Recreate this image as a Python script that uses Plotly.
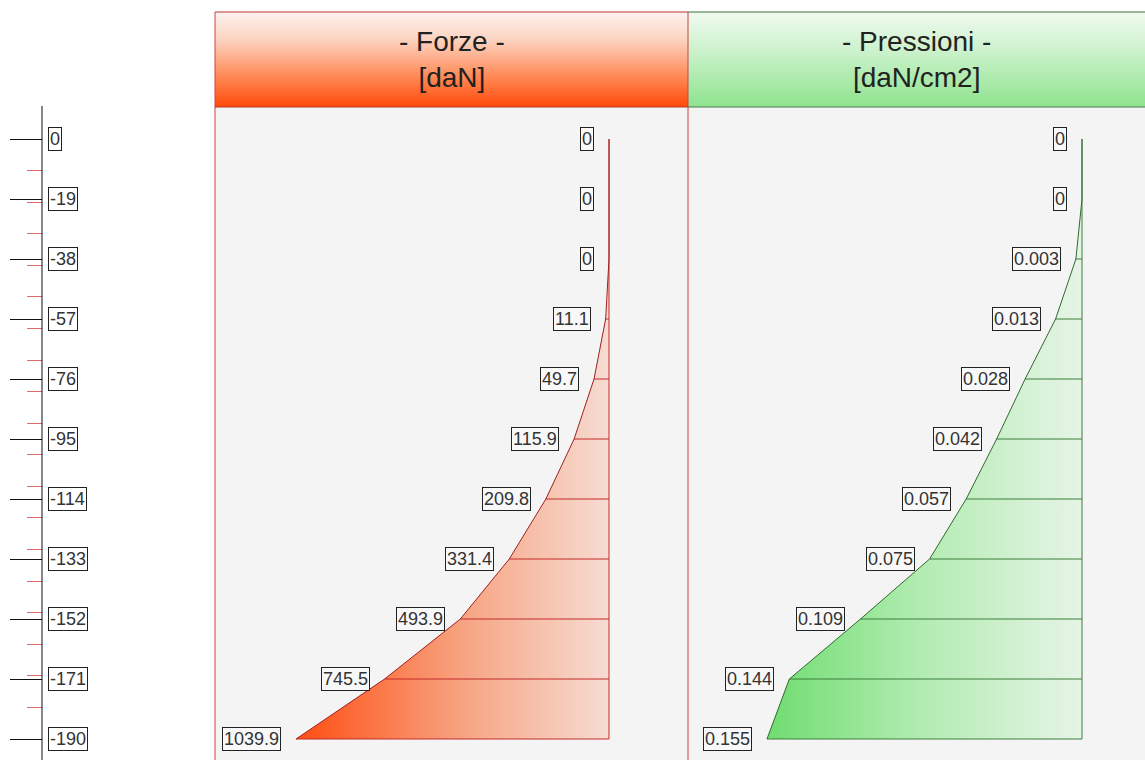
import plotly.graph_objects as go

# Depth levels (cm) and the values computed at each level
DEPTH = [0, -19, -38, -57, -76, -95, -114, -133, -152, -171, -190]
DEPTH_LABELS = ["0", "-19", "-38", "-57", "-76", "-95", "-114", "-133", "-152", "-171", "-190"]
MINOR_DEPTH = [-10, -20, -30, -40, -50, -60, -70, -80, -90, -100,
               -110, -120, -130, -140, -150, -160, -170, -180, -190]
FORZE = [0, 0, 0, 11.1, 49.7, 115.9, 209.8, 331.4, 493.9, 745.5, 1039.9]          # daN
PRESSIONI = [0, 0, 0.003, 0.013, 0.028, 0.042, 0.057, 0.075, 0.109, 0.144, 0.155]  # daN/cm2

W, H = 1145, 760
FONT = "Liberation Sans, Arial, sans-serif"

# pixel layout of the two panels
PANEL_TOP, HEADER_BOTTOM = 12, 107
F_LEFT, SPLIT, P_RIGHT = 215, 688, W
F_BASE_PX, F_PX_PER_UNIT = 609, 0.30099      # baseline of the force diagram
P_BASE_PX, P_PX_PER_UNIT = 1082, 2032.3      # baseline of the pressure diagram
DEPTH_TOP_PX, PX_PER_CM = 139, 600 / 190     # depth 0 row and vertical scale

RED_LINE = "#c42a2a"
RED_EDGE = "#9e2020"
GREEN_LINE = "#3d7f3d"
GREEN_EDGE = "#2f6a2f"

fig = go.Figure()

# ---- panel backgrounds and headers (pixel coordinates on the base axes) ----
fig.add_trace(go.Scatter(
    x=[F_LEFT, P_RIGHT, P_RIGHT, F_LEFT, F_LEFT],
    y=[HEADER_BOTTOM, HEADER_BOTTOM, H, H, HEADER_BOTTOM],
    fill="toself", fillcolor="#f4f4f4", line=dict(width=0),
    mode="lines", hoverinfo="skip", showlegend=False))

# gradient colours run from the bottom edge (0) to the top edge (1)
fig.add_trace(go.Scatter(
    x=[F_LEFT, SPLIT, SPLIT, F_LEFT, F_LEFT],
    y=[PANEL_TOP, PANEL_TOP, HEADER_BOTTOM, HEADER_BOTTOM, PANEL_TOP],
    fill="toself", mode="lines", line=dict(width=0),
    fillgradient=dict(type="vertical",
                      colorscale=[[0, "#ff4a0a"], [0.3, "#ff8550"], [0.7, "#fcd2bf"], [1, "#fdf3ef"]]),
    hoverinfo="skip", showlegend=False))

fig.add_trace(go.Scatter(
    x=[SPLIT, P_RIGHT, P_RIGHT, SPLIT, SPLIT],
    y=[PANEL_TOP, PANEL_TOP, HEADER_BOTTOM, HEADER_BOTTOM, PANEL_TOP],
    fill="toself", mode="lines", line=dict(width=0),
    fillgradient=dict(type="vertical",
                      colorscale=[[0, "#8ee38e"], [0.6, "#cdf2cd"], [1, "#f0faf0"]]),
    hoverinfo="skip", showlegend=False))


def diagram(values, xaxis, line_col, edge_col, grad):
    # filled diagram between the baseline and the curve
    fig.add_trace(go.Scatter(
        x=values + [0, 0], y=DEPTH + [DEPTH[-1], DEPTH[0]],
        xaxis=xaxis, yaxis="y2", mode="lines", fill="toself",
        fillgradient=dict(type="horizontal", colorscale=grad),
        line=dict(width=0), hoverinfo="skip", showlegend=False))
    # horizontal level lines
    hx, hy = [], []
    for v, d in zip(values, DEPTH):
        hx += [v, 0, None]
        hy += [d, d, None]
    fig.add_trace(go.Scatter(x=hx, y=hy, xaxis=xaxis, yaxis="y2", mode="lines",
                             line=dict(color=line_col, width=1),
                             hoverinfo="skip", showlegend=False))
    # baseline
    fig.add_trace(go.Scatter(x=[0, 0], y=[DEPTH[0], DEPTH[-1]], xaxis=xaxis, yaxis="y2",
                             mode="lines", line=dict(color=line_col, width=1),
                             hoverinfo="skip", showlegend=False))
    # outline
    fig.add_trace(go.Scatter(x=values, y=DEPTH, xaxis=xaxis, yaxis="y2", mode="lines",
                             line=dict(color=edge_col, width=1),
                             hoverinfo="skip", showlegend=False))
    # value labels
    for v, d in zip(values, DEPTH):
        fig.add_annotation(x=v, y=d, xref=xaxis, yref="y2", text=f"{v:g}",
                           showarrow=False, xanchor="right", yanchor="middle", xshift=-15,
                           font=dict(family=FONT, size=18, color="#333333"),
                           bgcolor="#f8f8f8", bordercolor="#222222", borderwidth=1, borderpad=1)


# horizontal gradients run left (0) to right (1) on screen
diagram(FORZE, "x2", RED_LINE, RED_EDGE,
        [[0, "#ff4d12"], [0.55, "#f7a685"], [1, "#f6dcd2"]])
diagram(PRESSIONI, "x3", GREEN_LINE, GREEN_EDGE,
        [[0, "#70dd70"], [0.5, "#b3ecb3"], [1, "#e6f4e6"]])

# ---- depth scale labels ----
for d, lab in zip(DEPTH, DEPTH_LABELS):
    fig.add_annotation(x=48 / W, y=d, xref="paper", yref="y2", text=lab, showarrow=False,
                       xanchor="left", yanchor="middle",
                       font=dict(family=FONT, size=18, color="#333333"),
                       bgcolor="#ffffff", bordercolor="#222222", borderwidth=1, borderpad=1)

# ---- headers text ----
for x0, x1, txt in [(F_LEFT, SPLIT, "- Forze -<br>[daN]"), (SPLIT, P_RIGHT, "- Pressioni -<br>[daN/cm2]")]:
    fig.add_annotation(x=(x0 + x1) / 2, y=(PANEL_TOP + HEADER_BOTTOM) / 2, xref="x", yref="y",
                       text=txt, showarrow=False, xanchor="center", yanchor="middle",
                       font=dict(family=FONT, size=28, color="#222222"))

# ---- frame lines ----
shapes = [
    dict(type="line", xref="x", yref="y", x0=F_LEFT, x1=F_LEFT, y0=PANEL_TOP, y1=H, line=dict(color="#d04040", width=1)),
    dict(type="line", xref="x", yref="y", x0=SPLIT, x1=SPLIT, y0=PANEL_TOP, y1=H, line=dict(color="#d04040", width=1)),
    dict(type="line", xref="x", yref="y", x0=F_LEFT, x1=SPLIT, y0=PANEL_TOP, y1=PANEL_TOP, line=dict(color="#c03030", width=1)),
    dict(type="line", xref="x", yref="y", x0=F_LEFT, x1=SPLIT, y0=HEADER_BOTTOM, y1=HEADER_BOTTOM, line=dict(color="#b83a2a", width=1)),
    dict(type="line", xref="x", yref="y", x0=SPLIT, x1=P_RIGHT, y0=PANEL_TOP, y1=PANEL_TOP, line=dict(color="#3f6f3f", width=1)),
    dict(type="line", xref="x", yref="y", x0=SPLIT, x1=P_RIGHT, y0=HEADER_BOTTOM, y1=HEADER_BOTTOM, line=dict(color="#4a7a4a", width=1)),
    # depth scale spine
    dict(type="line", xref="x", yref="y", x0=42, x1=42, y0=106, y1=H, line=dict(color="#111111", width=1)),
]

depth_top = DEPTH_TOP_PX / PX_PER_CM
depth_bottom = -(H - DEPTH_TOP_PX) / PX_PER_CM

fig.update_layout(
    width=W, height=H, margin=dict(l=0, r=0, t=0, b=0),
    paper_bgcolor="white", plot_bgcolor="rgba(0,0,0,0)",
    showlegend=False, hovermode=False, shapes=shapes,
    xaxis=dict(range=[0, W], visible=False, fixedrange=True, domain=[0, 1]),
    yaxis=dict(range=[H, 0], visible=False, fixedrange=True, domain=[0, 1]),
    xaxis2=dict(overlaying="x", anchor="y2", visible=False, fixedrange=True,
                range=[F_BASE_PX / F_PX_PER_UNIT, (F_BASE_PX - W) / F_PX_PER_UNIT]),
    xaxis3=dict(overlaying="x", anchor="y2", visible=False, fixedrange=True,
                range=[P_BASE_PX / P_PX_PER_UNIT, (P_BASE_PX - W) / P_PX_PER_UNIT]),
    yaxis2=dict(overlaying="y", anchor="free", position=42 / W, side="left",
                range=[depth_bottom, depth_top], fixedrange=True,
                showgrid=False, zeroline=False, showline=False, showticklabels=False,
                tickmode="array", tickvals=DEPTH, ticks="outside", ticklen=32,
                tickcolor="#111111", tickwidth=1,
                minor=dict(tickmode="array", tickvals=MINOR_DEPTH, ticks="outside", ticklen=15,
                           tickcolor="#e06a6a", tickwidth=1, showgrid=False)),
)

fig.write_html("out.html")
